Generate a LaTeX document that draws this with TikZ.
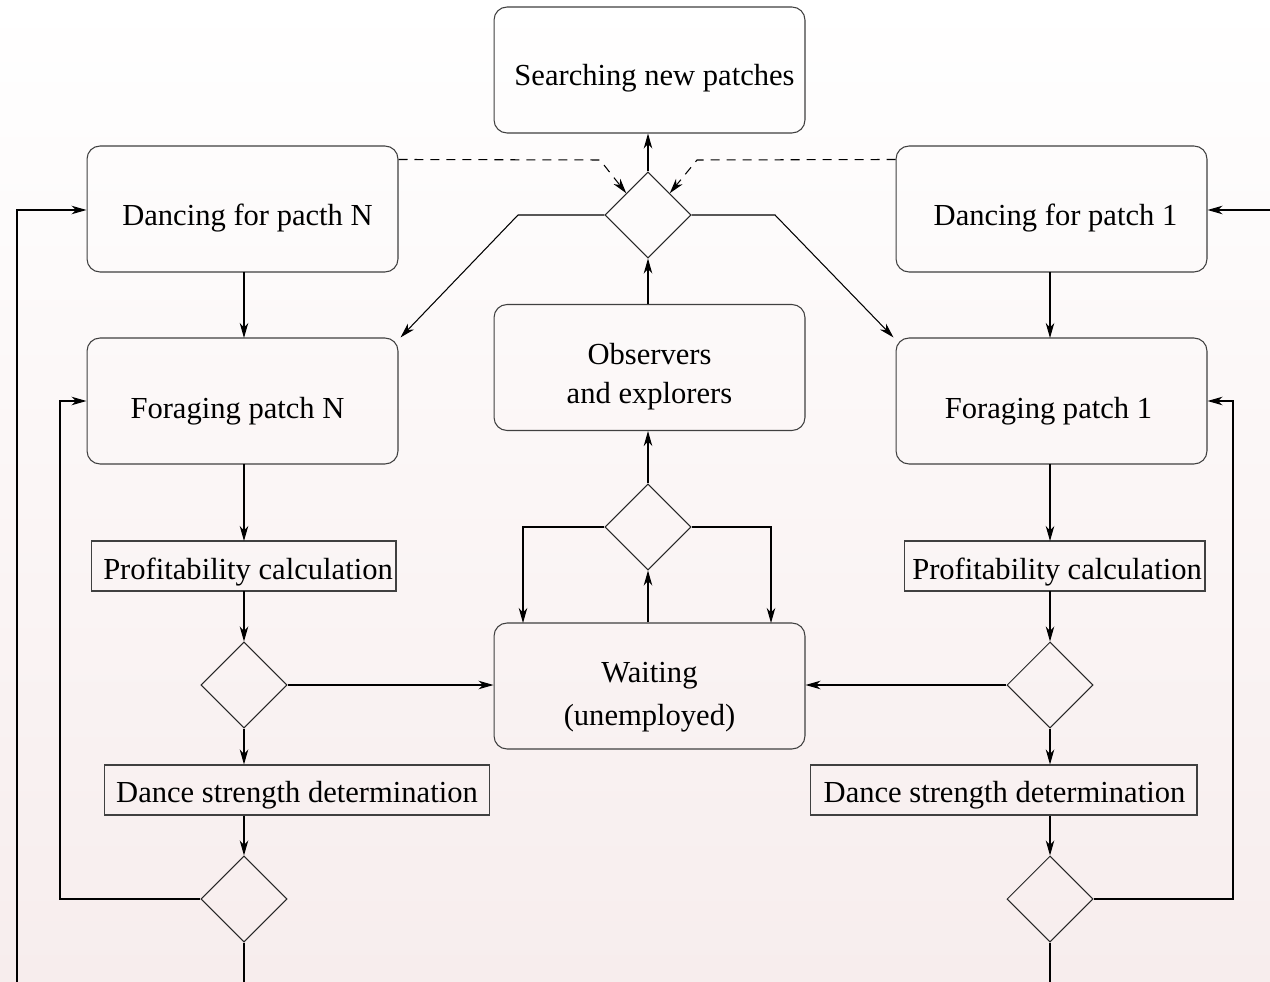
\documentclass[tikz,border=0pt]{standalone}
\usepackage{fontspec}
\setmainfont{Liberation Serif}
\usetikzlibrary{shapes.geometric,arrows.meta,calc}
\definecolor{bgbot}{RGB}{247,237,237}
\begin{document}
\begin{tikzpicture}[x=0.02cm,y=-0.02cm,
  txt/.style={font=\fontsize{17.4}{23}\selectfont, text=black, align=center, inner sep=0pt},
  rbox/.style={draw=black!75, line width=0.6pt, rounded corners=0.26cm, minimum width=6.22cm, minimum height=2.52cm, inner sep=0pt},
  sbox/.style={draw=black!75, line width=0.6pt, minimum height=1.0cm, inner sep=0pt},
  dec/.style={draw=black!85, line width=0.6pt, diamond, aspect=1, minimum width=1.72cm, minimum height=1.72cm, inner sep=0pt},
  conn/.style={line width=0.6pt, -{Stealth[length=0.3cm,width=0.17cm,inset=0.09cm]}},
  dconn/.style={conn, dashed, dash pattern=on 0.18cm off 0.14cm}]
\shade[top color=white, bottom color=bgbot] (0,0) rectangle (1270,982);
\useasboundingbox (0,0) rectangle (1270,982);

% boxes
\node[rbox] (search) at (649.5,70) {};
\node[rbox] (dancN) at (242.5,209) {};
\node[rbox] (danc1) at (1051.5,209) {};
\node[dec] (dtop) at (648,215) {};
\node[rbox] (obs) at (649.5,367.5) {};
\node[rbox] (forN) at (242.5,401) {};
\node[rbox] (for1) at (1051.5,401) {};
\node[dec] (dmid) at (648,527) {};
\node[sbox, minimum width=6.1cm] (profN) at (243.5,566) {};
\node[sbox, minimum width=6.02cm] (prof1) at (1054.5,566) {};
\node[dec] (d1N) at (244,685) {};
\node[dec] (d11) at (1050,685) {};
\node[rbox] (wait) at (649.5,686) {};
\node[sbox, minimum width=7.72cm] (danceN) at (297,790) {};
\node[sbox, minimum width=7.74cm] (dance1) at (1003.5,790) {};
\node[dec] (d2N) at (244,899) {};
\node[dec] (d21) at (1050,899) {};

% texts
\node[txt] (searchT) at ($(search)+(5,8)$) {Searching new patches};
\node[txt] (dancNT) at ($(dancN)+(5,9)$) {Dancing for pacth N};
\node[txt] (danc1T) at ($(danc1)+(4,9)$) {Dancing for patch 1};
\node[txt] (obsT) at ($(obs)+(0,9)$) {Observers\\[-0.04cm]and explorers};
\node[txt] (forNT) at ($(forN)+(-5,10)$) {Foraging patch N};
\node[txt] (for1T) at ($(for1)+(-3,10)$) {Foraging patch 1};
\node[txt] (waitT) at ($(wait)+(0,11)$) {Waiting\\[0.06cm](unemployed)};
\node[txt] (profNT) at ($(profN)+(4.5,6)$) {Profitability calculation};
\node[txt] (prof1T) at ($(prof1)+(2.5,6)$) {Profitability calculation};
\node[txt] (danceNT) at ($(danceN)+(0,5)$) {Dance strength determination};
\node[txt] (dance1T) at ($(dance1)+(1,5)$) {Dance strength determination};

\coordinate (lb) at (244,982.5);
\coordinate (rb) at (1050,982.5);

% top area
\draw[conn] (dtop.north) -- (dtop.north |- search.south);
\draw[conn] (dtop.south |- obs.north) -- (dtop.south);
\draw[dconn] ($(dancN.north east)+(0,14)$) -- (600,160) -- (dtop.north west);
\draw[dconn] ($(danc1.north west)+(0,14)$) -- (697,160) -- (dtop.north east);
\draw[conn] (dtop.west) -- (518,215) -- ($(forN.north east)+(2,0)$);
\draw[conn] (dtop.east) -- (775,215) -- ($(for1.north west)+(-2,0)$);

% middle column
\draw[conn] (dmid.north) -- (dmid.north |- obs.south);
\draw[conn] (dmid.south |- wait.north) -- (dmid.south);
\draw[conn] (dmid.west) -- (523,527) -- (523,623);
\draw[conn] (dmid.east) -- (771,527) -- (771,623);

% left column
\draw[conn] (244,272) -- (244,338);
\draw[conn] (244,464) -- (244,541);
\draw[conn] (244,591) -- (d1N.north);
\draw[conn] (d1N.east) -- (wait.west |- d1N.east);
\draw[conn] (d1N.south) -- (d1N.south |- danceN.north);
\draw[conn] (d1N.south |- danceN.south) -- (d2N.north);
\draw[conn] (d2N.west) -- (60,899) -- (60,401) -- (forN.west);
\draw[conn] (d2N.south) -- (lb) -- (17,982.5) -- (17,210) -- (dancN.west |- 0,210);

% right column
\draw[conn] (1050,272) -- (1050,338);
\draw[conn] (1050,464) -- (1050,541);
\draw[conn] (1050,591) -- (d11.north);
\draw[conn] (d11.west) -- (wait.east |- d11.west);
\draw[conn] (d11.south) -- (d11.south |- dance1.north);
\draw[conn] (d11.south |- dance1.south) -- (d21.north);
\draw[conn] (d21.east) -- (1233,899) -- (1233,401) -- (for1.east);
\draw[conn] (d21.south) -- (rb) -- (1270.4,982.5) -- (1270.4,210) -- (danc1.east |- 0,210);
\end{tikzpicture}
\end{document}
